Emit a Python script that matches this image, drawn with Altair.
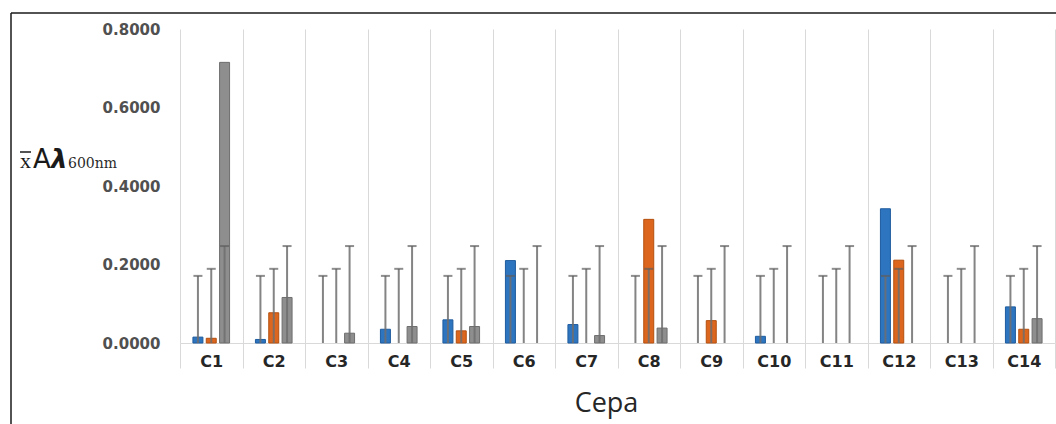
import altair as alt
import pandas as pd

cepas = ["C1", "C2", "C3", "C4", "C5", "C6", "C7", "C8", "C9", "C10", "C11", "C12", "C13", "C14"]
series = ["Serie 1", "Serie 2", "Serie 3"]
serie1 = [0.015, 0.009, 0.0, 0.035, 0.059, 0.210, 0.047, 0.0, 0.0, 0.017, 0.0, 0.342, 0.0, 0.092]
serie2 = [0.012, 0.077, 0.0, 0.0, 0.031, 0.0, 0.0, 0.315, 0.057, 0.0, 0.0, 0.211, 0.0, 0.035]
serie3 = [0.715, 0.116, 0.025, 0.042, 0.042, 0.0, 0.019, 0.038, 0.0, 0.0, 0.0, 0.0, 0.0, 0.062]
err_top = [0.171, 0.189, 0.247]
y_ticks = [0.0, 0.2, 0.4, 0.6, 0.8]

fills = ["#2E75C0", "#DD661E", "#8E8E8E"]
strokes = ["#1F5C9E", "#B4500F", "#6E6E6E"]

rows = []
for s, vals, e in zip(series, [serie1, serie2, serie3], err_top):
    for c, v in zip(cepas, vals):
        rows.append({"cepa": c, "serie": s, "valor": v, "err": e})
df = pd.DataFrame(rows)

x_enc = alt.X(
    "cepa:N", sort=cepas,
    scale=alt.Scale(paddingInner=0, paddingOuter=0),
    axis=alt.Axis(
        title="Cepa", labelAngle=0, tickBand="extent",
        grid=True, gridColor="#D9D9D9", gridWidth=1,
        ticks=True, tickColor="#D9D9D9", tickSize=25, tickWidth=1,
        domain=True, domainColor="#D9D9D9", domainWidth=1,
        labelFont="DejaVu Sans", labelFontWeight="bold", labelFontSize=16,
        labelColor="#262626", labelPadding=-15,
        titleFont="Open Sans", titleFontSize=27, titleFontWeight="normal",
        titleColor="#262626", titleX=426, titleY=68, titleAlign="center",
        titleBaseline="alphabetic",
    ),
)
xo_enc = alt.XOffset("serie:N", sort=series,
                     scale=alt.Scale(paddingInner=0.25, paddingOuter=0.97))
y_enc = alt.Y(
    "valor:Q",
    scale=alt.Scale(domain=[0, 0.8]),
    axis=alt.Axis(
        values=y_ticks, format=".4f", grid=False, domain=False, ticks=False,
        labelFont="DejaVu Sans", labelFontWeight="bold", labelFontSize=15,
        labelColor="#505050", labelPadding=20, title=None,
    ),
)

base = alt.Chart(df)

bars = base.transform_filter("datum.valor > 0").mark_bar(strokeWidth=1).encode(
    x=x_enc, xOffset=xo_enc, y=y_enc,
    color=alt.Color("serie:N", scale=alt.Scale(domain=series, range=fills), legend=None),
    stroke=alt.Stroke("serie:N", scale=alt.Scale(domain=series, range=strokes), legend=None),
)

whiskers = base.mark_rule(color="#6F6F6F", strokeWidth=2, opacity=0.85).encode(
    x=x_enc, xOffset=xo_enc, y=alt.Y("err:Q"), y2=alt.datum(0),
)

caps = base.mark_tick(color="#5E5E5E", thickness=2, size=9).encode(
    x=x_enc, xOffset=xo_enc, y=alt.Y("err:Q"),
)

one = pd.DataFrame({"k": [0]})
frame_top = alt.Chart(one).mark_rule(color="#1A1A1A", strokeWidth=1.5).encode(
    x=alt.value(-169), x2=alt.value(880), y=alt.value(-16))
frame_left = alt.Chart(one).mark_rule(color="#1A1A1A", strokeWidth=1.5).encode(
    x=alt.value(-169), y=alt.value(-16), y2=alt.value(400))

base_y = 139
t_x = alt.Chart(one).mark_text(font="Liberation Serif", fontSize=22, align="left",
                               baseline="alphabetic", color="#1A1A1A").encode(
    x=alt.value(-160), y=alt.value(base_y), text=alt.value("x"))
t_bar = alt.Chart(one).mark_rule(color="#1A1A1A", strokeWidth=1.5).encode(
    x=alt.value(-160), x2=alt.value(-149), y=alt.value(base_y - 16))
t_a = alt.Chart(one).mark_text(font="DejaVu Sans", fontSize=26, align="left",
                               baseline="alphabetic", color="#1A1A1A").encode(
    x=alt.value(-147), y=alt.value(base_y), text=alt.value("A"))
t_l = alt.Chart(one).mark_text(font="DejaVu Sans", fontSize=26, fontWeight="bold",
                               fontStyle="italic", align="left",
                               baseline="alphabetic", color="#1A1A1A").encode(
    x=alt.value(-129), y=alt.value(base_y), text=alt.value("λ"))
t_sub = alt.Chart(one).mark_text(font="DejaVu Serif", fontSize=14, align="left",
                                 baseline="alphabetic", color="#2A2A2A").encode(
    x=alt.value(-112), y=alt.value(base_y), text=alt.value("600nm"))

chart = alt.layer(
    bars, whiskers, caps, frame_top, frame_left, t_x, t_bar, t_a, t_l, t_sub
).properties(
    width=875, height=314,
    autosize=alt.AutoSizeParams(type="none"),
    padding={"left": 180, "top": 29, "right": 1, "bottom": 81},
    background="white",
).configure_view(stroke=None)

chart.save("out.html", embed_options={"renderer": "svg", "actions": False})
